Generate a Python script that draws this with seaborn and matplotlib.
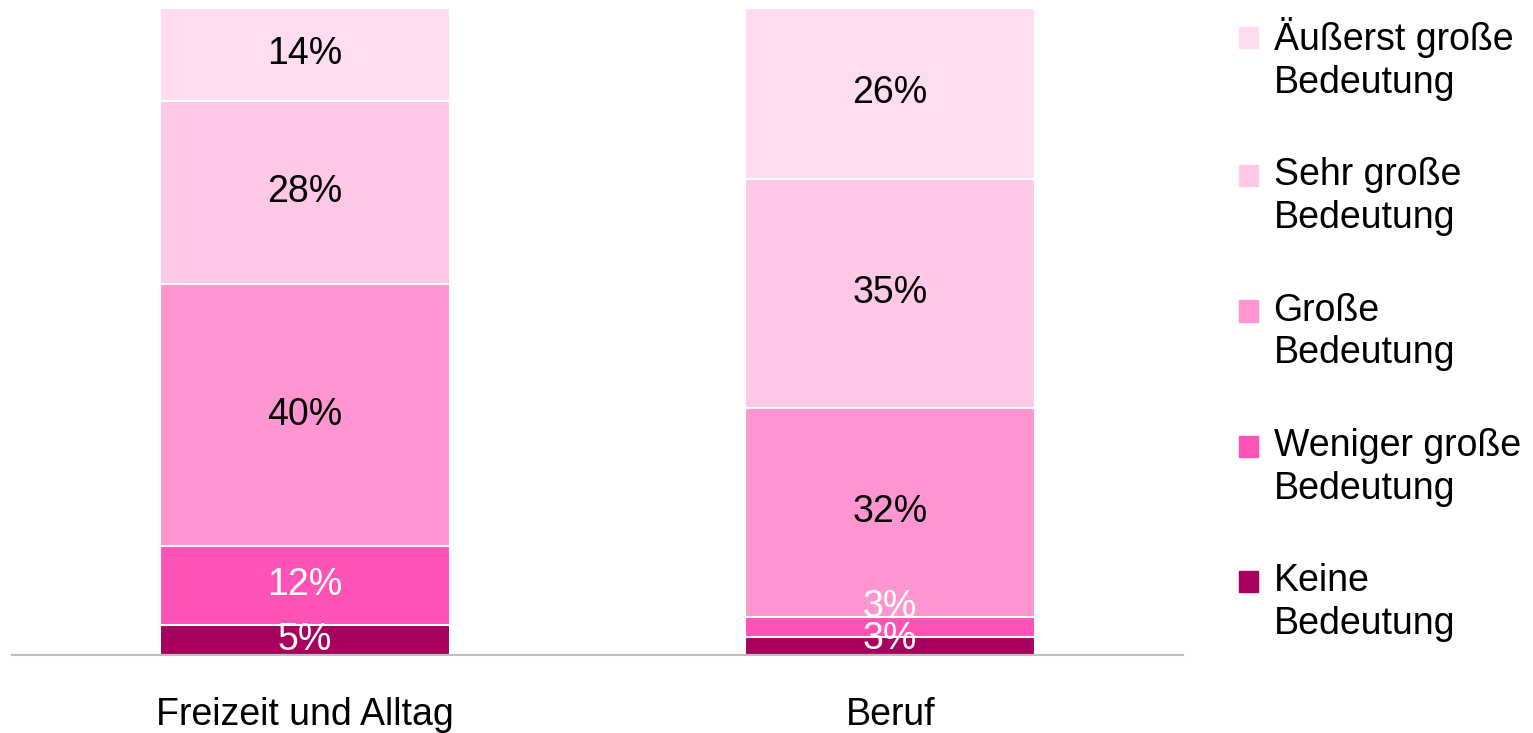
import numpy as np
import pandas as pd
import matplotlib
matplotlib.use("Agg")
import matplotlib.pyplot as plt
import matplotlib.patches as mpatches
from matplotlib.legend_handler import HandlerPatch
import seaborn as sns

# ── Data ──────────────────────────────────────────────────────────────────────
CATEGORIES = ["Freizeit und Alltag", "Beruf"]
LEVELS = ["Keine\nBedeutung", "Weniger große\nBedeutung", "Große\nBedeutung",
          "Sehr große\nBedeutung", "Äußerst große\nBedeutung"]
KEINE     = [4.6, 2.8]
WENIGER   = [12.3, 3.1]
GROSSE    = [40.4, 32.3]
SEHR      = [28.4, 35.4]
AEUSSERST = [14.3, 26.4]

# ── Style ─────────────────────────────────────────────────────────────────────
COLORS = ["#A8005F", "#FF52B7", "#FF96D2", "#FFC8E6", "#FFDDF0"]
TEXT_COLORS = ["white", "white", "black", "black", "black"]
FS = 27
BAR_W = 0.496
# small vertical nudges (in % units) for labels of thin segments
LABEL_NUDGE = {(1, 0): 1.1, (1, 1): 3.1}

sns.set_style("white")
plt.rcParams["font.family"] = ["Liberation Sans", "DejaVu Sans"]
plt.rcParams["text.color"] = "black"
plt.rcParams["xtick.color"] = "black"

series = [KEINE, WENIGER, GROSSE, SEHR, AEUSSERST]
df = pd.DataFrame({lvl: vals for lvl, vals in zip(LEVELS, series)}, index=CATEGORIES)
cum = df.cumsum(axis=1)

fig = plt.figure(figsize=(15.33, 7.33), dpi=100)
ax = fig.add_axes([12 / 1533, 78 / 733, (1183 - 12) / 1533, (655 - 8) / 733])

# overlay cumulative bars, tallest first
for i in reversed(range(len(LEVELS))):
    plot_df = pd.DataFrame({"cat": CATEGORIES, "val": cum.iloc[:, i].values})
    sns.barplot(data=plot_df, x="cat", y="val", color=COLORS[i], width=BAR_W,
                edgecolor="white", linewidth=1.5, errorbar=None, ax=ax,
                saturation=1)

# segment labels
for j, cat in enumerate(CATEGORIES):
    base = 0.0
    for i, lvl in enumerate(LEVELS):
        v = df.loc[cat, lvl]
        y = base + v / 2 + LABEL_NUDGE.get((j, i), 0)
        ax.text(j, y, f"{round(v)}%", ha="center", va="center",
                fontsize=FS, color=TEXT_COLORS[i])
        base += v

ax.set_xlim(-0.5, 1.5)
ax.set_ylim(0, 100)
ax.set_xlabel("")
ax.set_ylabel("")
ax.set_yticks([])
ax.tick_params(axis="x", length=0, pad=30, labelsize=FS, labelcolor="black")
for s in ["top", "right", "left"]:
    ax.spines[s].set_visible(False)
ax.spines["bottom"].set_color("#BFBFBF")
ax.spines["bottom"].set_linewidth(1.5)


# legend squares sit next to the first text line
def top_square(legend, orig_handle, xdescent, ydescent, width, height, fontsize):
    return mpatches.Rectangle((-xdescent, -ydescent + 0.58 * fontsize), width, height)


handles = [mpatches.Patch(color=COLORS[i], label=LEVELS[i])
           for i in reversed(range(len(LEVELS)))]
leg = fig.legend(handles=handles, loc="upper left",
                 bbox_to_anchor=(1239 / 1533, 1 - 17 / 733),
                 frameon=False, fontsize=FS, handlelength=0.5, handleheight=0.5,
                 handletextpad=0.42, labelspacing=1.51, borderpad=0,
                 borderaxespad=0,
                 handler_map={mpatches.Patch: HandlerPatch(patch_func=top_square)})
for t in leg.get_texts():
    t.set_linespacing(1.24)
    t.set_color("black")

fig.savefig("out.png", dpi=100)
